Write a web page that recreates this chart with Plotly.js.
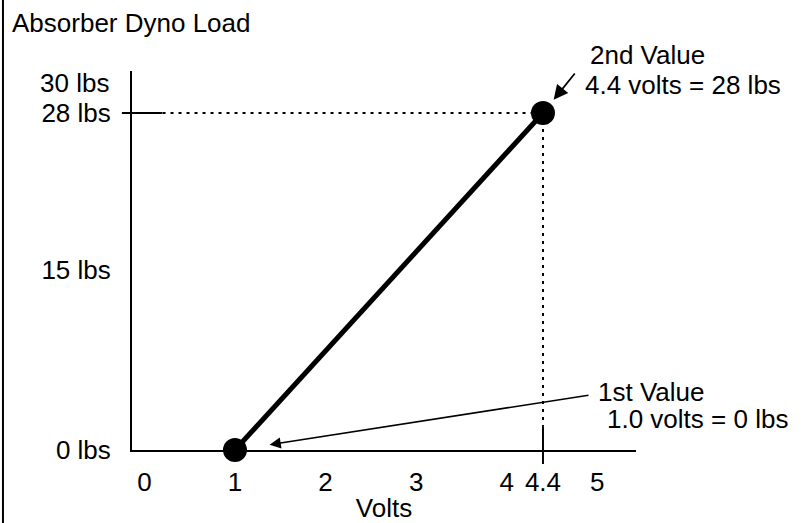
<!DOCTYPE html>
<html>
<head>
<meta charset="utf-8">
<script src="https://cdn.plot.ly/plotly-3.0.1.min.js"></script>
<style>html,body{margin:0;padding:0;background:#fff;}#chart{width:804px;height:523px;}</style>
</head>
<body>
<div id="chart"></div>
<script>
// Data
const volts = [1.0, 4.4];
const loadLbs = [0, 28];
const xTickVals = [0, 1, 2, 3, 4, 4.4, 5];
const xTickText = ['0', '1', '2', '3', '4', '4.4', '5'];
const yTickVals = [0, 15, 28];
const yTickText = ['0 lbs', '15 lbs', '28 lbs'];
const yTopVal = 30;
const yTopText = '30 lbs';
const pointLabels = ['1st Value', '2nd Value'];
const pointDescs = ['1.0 volts = 0 lbs', '4.4 volts = 28 lbs'];

const FONT = 'Arial, "Liberation Sans", sans-serif';
const FS = 26;
const F = {family: FONT, size: FS, color: '#000'};

const trace = {
  x: volts, y: loadLbs, type: 'scatter', mode: 'lines+markers',
  line: {color: '#000', width: 5},
  marker: {color: '#000', size: 24},
  cliponaxis: false, hoverinfo: 'skip', showlegend: false
};

const x2 = volts[1], y2 = loadLbs[1];
const shapes = [
  // left border of the frame
  {type: 'line', xref: 'paper', yref: 'paper', x0: -0.256, x1: -0.256, y0: -0.2, y1: 1.2,
   line: {color: '#000', width: 2}},
  // short solid tick at 28 lbs
  {type: 'line', xref: 'paper', yref: 'y', x0: -0.02, x1: 0.06, y0: y2, y1: y2,
   line: {color: '#000', width: 2}},
  // dotted guide from 28 lbs to the point
  {type: 'line', xref: 'x', yref: 'y', x0: 0.2, x1: x2, y0: y2, y1: y2,
   line: {color: '#000', width: 2, dash: '3px,5px'}},
  // dotted guide from the point down
  {type: 'line', xref: 'x', yref: 'y', x0: x2, x1: x2, y0: y2, y1: 2.0,
   line: {color: '#000', width: 2, dash: '3px,5px'}},
  // solid tick at 4.4 volts
  {type: 'line', xref: 'x', yref: 'paper', x0: x2, x1: x2, y0: 0.063, y1: -0.037,
   line: {color: '#000', width: 2}}
];

const annotations = [
  // arrows
  {x: volts[1], y: loadLbs[1], xref: 'x', yref: 'y', ax: 33, ay: -41, text: '',
   showarrow: true, arrowhead: 2, arrowsize: 1.6, arrowwidth: 1.8, arrowcolor: '#000', standoff: 17},
  {x: volts[0], y: loadLbs[0], xref: 'x', yref: 'y', ax: 355, ay: -55, text: '',
   showarrow: true, arrowhead: 2, arrowsize: 1.4, arrowwidth: 1.6, arrowcolor: '#000', standoff: 35},
  // top y label
  {xref: 'paper', yref: 'y', x: (111 - 132) / 504, y: yTopVal, yshift: 6, text: yTopText,
   showarrow: false, xanchor: 'right', yanchor: 'middle', font: F},
  // texts
  {xref: 'paper', yref: 'paper', x: (647 - 132) / 504, y: (450 - 55) / 379, text: pointLabels[1],
   showarrow: false, xanchor: 'center', yanchor: 'middle', font: F},
  {xref: 'paper', yref: 'paper', x: (683 - 132) / 504, y: (450 - 85) / 379, text: pointDescs[1],
   showarrow: false, xanchor: 'center', yanchor: 'middle', font: F},
  {xref: 'paper', yref: 'paper', x: (651 - 132) / 504, y: (450 - 392) / 379, text: pointLabels[0],
   showarrow: false, xanchor: 'center', yanchor: 'middle', font: F},
  {xref: 'paper', yref: 'paper', x: (697 - 132) / 504, y: (450 - 419) / 379, text: pointDescs[0],
   showarrow: false, xanchor: 'center', yanchor: 'middle', font: F}
];

const layout = {
  width: 804, height: 523,
  margin: {l: 132, r: 168, t: 71, b: 73, pad: 0},
  paper_bgcolor: '#fff', plot_bgcolor: '#fff',
  font: F,
  title: {text: 'Absorber Dyno Load', xref: 'container', yref: 'container',
          x: 12 / 804, xanchor: 'left', y: 1 - 23 / 523, yanchor: 'middle', font: F},
  xaxis: {
    range: [-0.137, 5.427], showline: true, linecolor: '#000', linewidth: 2,
    showgrid: false, zeroline: false, ticks: '', tickvals: xTickVals, ticktext: xTickText,
    ticklabelstandoff: 8, fixedrange: true,
    title: {text: 'Volts', standoff: 13, font: F}
  },
  yaxis: {
    range: [0, 31.49], showline: true, linecolor: '#000', linewidth: 2,
    showgrid: false, zeroline: false, ticks: '', tickvals: yTickVals, ticktext: yTickText,
    ticklabelstandoff: 14, fixedrange: true
  },
  shapes: shapes,
  annotations: annotations,
  showlegend: false
};

Plotly.newPlot('chart', [trace], layout, {displayModeBar: false, staticPlot: true});
</script>
</body>
</html>
